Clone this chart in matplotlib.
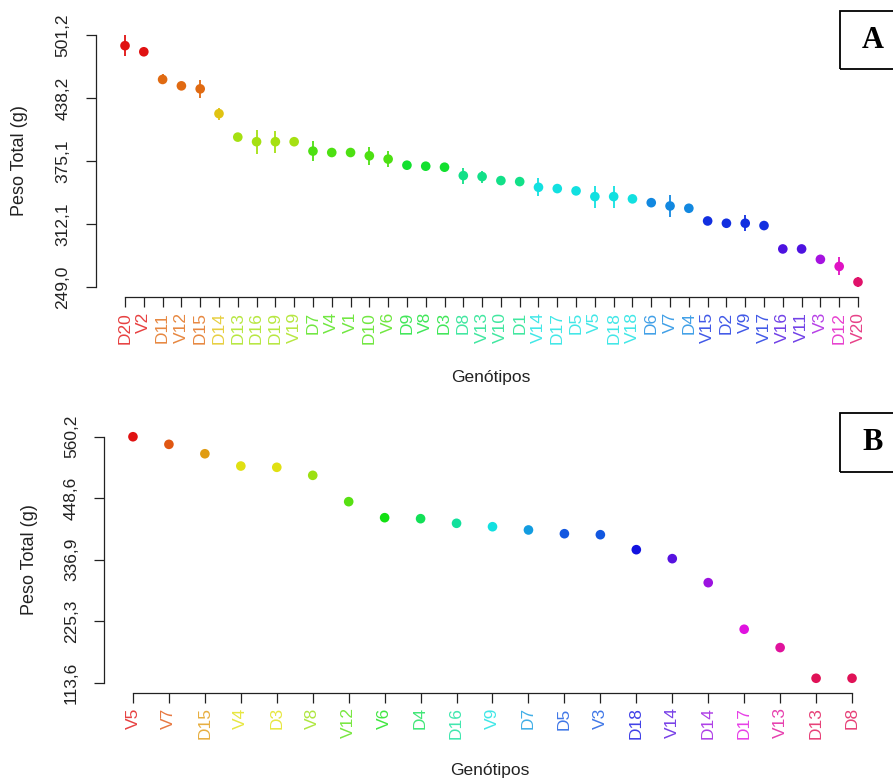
import matplotlib
matplotlib.use("Agg")
import matplotlib.pyplot as plt
import numpy as np
from matplotlib.colors import hsv_to_rgb
from matplotlib.patches import Rectangle

plt.rcParams['font.family'] = ['Liberation Sans', 'DejaVu Sans']

# ---------------- Panel A data ----------------
genot_a = ["D20", "V2", "D11", "V12", "D15", "D14", "D13", "D16", "D19", "V19",
           "D7", "V4", "V1", "D10", "V6", "D9", "V8", "D3", "D8", "V13",
           "V10", "D1", "V14", "D17", "D5", "V5", "D18", "V18", "D6", "V7",
           "D4", "V15", "D2", "V9", "V17", "V16", "V11", "V3", "D12", "V20"]
peso_a = [490.5, 484.4, 456.7, 450.3, 447.3, 422.5, 399.0, 394.4, 394.4, 394.4,
          385.0, 383.6, 383.6, 380.3, 377.0, 370.9, 369.9, 368.9, 360.5, 359.5,
          355.5, 354.5, 348.8, 347.5, 345.2, 339.5, 339.5, 337.2, 333.4, 330.1,
          327.8, 315.1, 312.8, 312.8, 310.5, 287.1, 287.1, 276.7, 269.6, 254.0]
erro_a = [10.7, 3, 5, 3, 9, 6, 2, 12, 11, 3,
          10, 2, 2, 9, 8, 3, 2, 2, 8, 6,
          4, 2, 9, 2, 4, 11, 11, 2, 2, 11,
          2, 4, 2, 8, 2, 3, 2, 2, 9, 5]
grupo_a = [1, 1, 2, 2, 2, 3, 4, 4, 4, 4,
           5, 5, 5, 5, 5, 6, 6, 6, 7, 7,
           7, 7, 8, 8, 8, 8, 8, 8, 9, 9,
           9, 10, 10, 10, 10, 11, 11, 12, 13, 14]
ticks_a = [249.0, 312.1, 375.1, 438.2, 501.2]
ticklab_a = ["249,0", "312,1", "375,1", "438,2", "501,2"]

# ---------------- Panel B data ----------------
genot_b = ["V5", "V7", "D15", "V4", "D3", "V8", "V12", "V6", "D4", "D16", "V9",
           "D7", "D5", "V3", "D18", "V14", "D14", "D17", "V13", "D13", "D8"]
peso_b = [560.2, 546.4, 529.3, 507.0, 504.7, 490.1, 442.3, 413.2, 411.4, 403.0, 396.8,
          390.9, 384.1, 382.3, 355.1, 338.8, 295.2, 210.6, 177.3, 121.6, 121.6]
grupo_b = [1, 2, 3, 4, 4, 5, 6, 7, 8, 9, 10,
           11, 12, 12, 13, 14, 15, 16, 17, 18, 18]
ticks_b = [113.6, 225.3, 336.9, 448.6, 560.2]
ticklab_b = ["113,6", "225,3", "336,9", "448,6", "560,2"]

W, H = 893, 780
fig = plt.figure(figsize=(W / 100, H / 100), dpi=100)


def rainbow(n, s=0.92, v=0.88):
    return hsv_to_rgb(np.array([[i / n, s, v] for i in range(n)]))


def panel(rect_px, names, vals, errs, groups, ticks, ticklabels):
    l, t, r, b = rect_px
    ax = fig.add_axes([l / W, 1 - b / H, (r - l) / W, (b - t) / H])
    n = len(names)
    x = np.arange(1, n + 1)
    vals = np.asarray(vals)
    cols = rainbow(max(groups))
    c = [cols[g - 1] for g in groups]
    lab_c = [0.8 * np.asarray(col) + 0.2 for col in c]
    if errs is not None:
        e = np.asarray(errs)
        ax.vlines(x, vals - e, vals + e, colors=c, lw=1.3, zorder=2)
    ax.scatter(x, vals, c=c, s=48, edgecolors='none', zorder=3)
    ax.set_xlim(1 - 0.04 * (n - 1), n + 0.04 * (n - 1))
    lo, hi = ticks[0], ticks[-1]
    rg = hi - lo
    ax.set_ylim(lo - 0.04 * rg, hi + 0.04 * rg)
    for s in ("top", "right"):
        ax.spines[s].set_visible(False)
    ax.spines["left"].set_bounds(lo, hi)
    ax.spines["bottom"].set_bounds(1, n)
    for s in ("left", "bottom"):
        ax.spines[s].set_linewidth(0.9)
        ax.spines[s].set_color("#222222")
    ax.set_xticks(x)
    ax.set_xticklabels(names, rotation=90, fontsize=12.5)
    for lbl, col in zip(ax.get_xticklabels(), lab_c):
        lbl.set_color(col)
    ax.set_yticks(ticks)
    ax.set_yticklabels(ticklabels, rotation=90, va="center", fontsize=12.5,
                       color="#222222")
    ax.tick_params(axis="both", length=7.2, width=0.9, color="#222222")
    ax.tick_params(axis="x", pad=3.5)
    ax.tick_params(axis="y", pad=11)
    return ax


axA = panel((95.7, 24.9, 887.3, 297.1), genot_a, peso_a, erro_a, grupo_a,
            ticks_a, ticklab_a)
axB = panel((104.2, 426.9, 880.8, 692.5), genot_b, peso_b, None, grupo_b,
            ticks_b, ticklab_b)

# axis titles
fig.text(20 / W, 1 - 161 / H, "Peso Total (g)", rotation=90, ha="center",
         va="center", fontsize=13, color="#222222")
fig.text(30 / W, 1 - 560 / H, "Peso Total (g)", rotation=90, ha="center",
         va="center", fontsize=13, color="#222222")
fig.text(491 / W, 1 - 377 / H, "Genótipos", ha="center", va="center",
         fontsize=12.5, color="#222222")
fig.text(490 / W, 1 - 770 / H, "Genótipos", ha="center", va="center",
         fontsize=12.5, color="#222222")

# panel letters in boxes
for (top, bot, letter) in ((11, 69, "A"), (413, 472, "B")):
    rect = Rectangle((840 / W, 1 - bot / H), 70 / W, (bot - top) / H,
                     transform=fig.transFigure, fill=False, lw=1.3,
                     edgecolor="black", clip_on=False)
    fig.add_artist(rect)
    fig.text(873 / W, 1 - (top + bot) / 2 / H, letter, ha="center",
             va="center", fontsize=22, fontweight="bold",
             family=["Liberation Serif", "DejaVu Serif"])

fig.savefig("out.png", dpi=100)
